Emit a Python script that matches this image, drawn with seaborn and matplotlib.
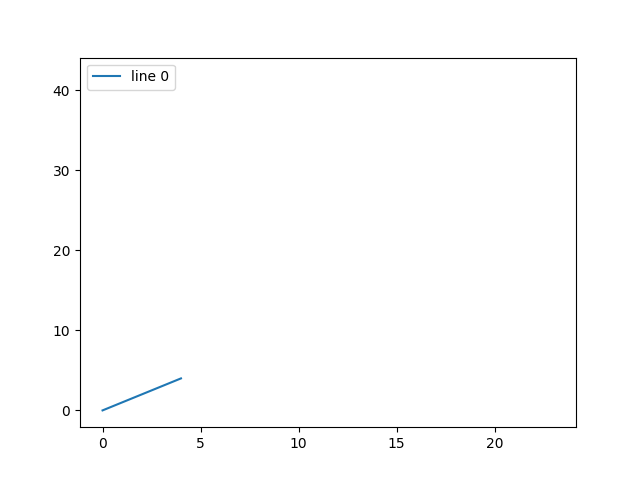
import matplotlib
matplotlib.use("Agg")
import matplotlib.pyplot as plt
import seaborn as sns
import pandas as pd

x_vals = [0, 1, 2, 3, 4]
y_vals = [0, 1, 2, 3, 4]
series_label = "line 0"

df = pd.DataFrame({"x": x_vals, "y": y_vals})

fig, ax = plt.subplots(figsize=(6.4, 4.8), dpi=100)
sns.lineplot(data=df, x="x", y="y", ax=ax, label=series_label, color="#1f77b4")
ax.set_xlim(-1.15, 24.15)
ax.set_ylim(-2.1, 44.1)
ax.set_xlabel("")
ax.set_ylabel("")
ax.legend(loc="upper left")
fig.savefig("out.png", dpi=100)
